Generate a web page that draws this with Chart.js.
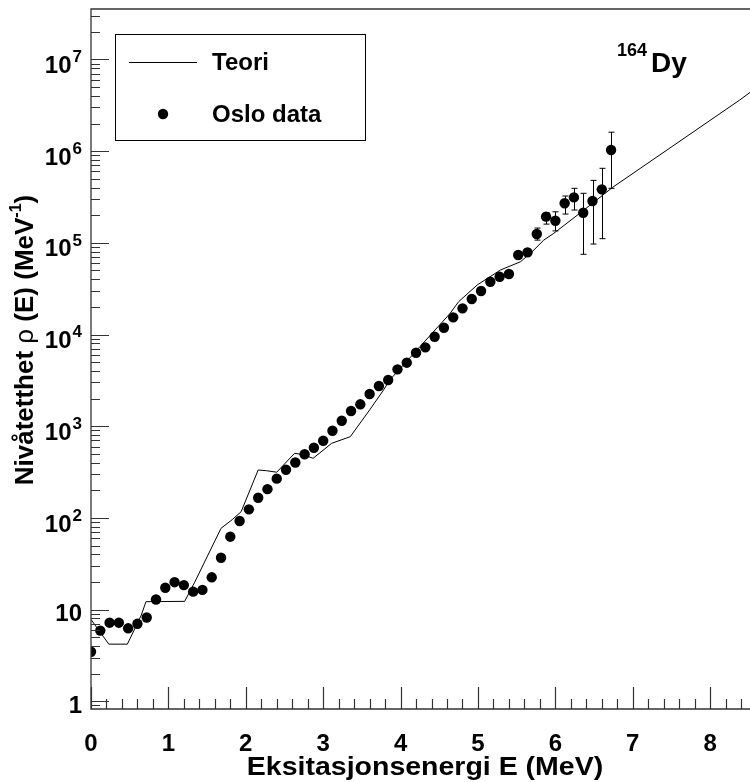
<!DOCTYPE html>
<html>
<head>
<meta charset="utf-8">
<script src="https://cdn.jsdelivr.net/npm/chart.js@4.4.0/dist/chart.umd.min.js"></script>
<style>
  html, body { margin: 0; padding: 0; background: #fff; overflow: hidden; }
</style>
</head>
<body>
<canvas id="c" width="750" height="782"></canvas>
<script>
// Oslo data points, 120 keV bins
const osloE = [0.00, 0.12, 0.24, 0.36, 0.48, 0.60, 0.72, 0.84, 0.96, 1.08,
  1.20, 1.32, 1.44, 1.56, 1.68, 1.80, 1.92, 2.04, 2.16, 2.28,
  2.40, 2.52, 2.64, 2.76, 2.88, 3.00, 3.12, 3.24, 3.36, 3.48,
  3.60, 3.72, 3.84, 3.96, 4.08, 4.20, 4.32, 4.44, 4.56, 4.68,
  4.80, 4.92, 5.04, 5.16, 5.28, 5.40, 5.52, 5.64, 5.76, 5.88,
  6.00, 6.12, 6.24, 6.36, 6.48, 6.60, 6.72];
const osloRho = [3.47, 5.9, 7.2, 7.2, 6.25, 7.0, 8.2, 12.9, 17.3, 19.9,
  18.5, 15.7, 16.4, 22.5, 36.8, 62.4, 92.5, 124, 166, 206,
  268, 335, 402, 494, 583, 695, 893, 1148, 1465, 1733,
  2245, 2744, 3190, 4172, 4930, 6330, 7250, 9460, 11860, 15400,
  19300, 24400, 29800, 37600, 42700, 45700, 73600, 78700, 124700, 193000,
  174000, 270000, 313000, 213000, 286000, 383000, 1030000];

// error bars (only the visible ones)
const errE = [5.52, 5.64, 5.76, 5.88, 6.00, 6.12, 6.24, 6.36, 6.48, 6.60, 6.72];
const errLow = [68000, 72000, 107000, 160000, 135000, 206000, 228000, 75000, 97000, 111000, 393000];
const errHigh = [80000, 86000, 145000, 213000, 218000, 324000, 393000, 347000, 480000, 650000, 1610000];

// theory curve
const teoriE = [0.00, 0.23, 0.47, 0.65, 0.71, 1.21, 1.34, 1.68, 1.83, 1.94,
  2.16, 2.27, 2.40, 2.63, 2.72, 2.87, 3.11, 3.35, 3.60, 3.78,
  3.86, 4.64, 4.75, 4.99, 5.29, 5.55, 5.70, 5.85, 5.98, 6.37,
  6.74, 8.38, 8.52];
const teoriRho = [7.8, 4.2, 4.2, 8.7, 12.2, 12.3, 19.9, 77, 96.6, 117,
  333, 327, 315, 506, 494, 447, 651, 769, 1503, 2483,
  3190, 17000, 22800, 34700, 50500, 62200, 80000, 107000, 127000, 228000,
  403000, 3600000, 4400000];

const yDecades = [0, 1, 2, 3, 4, 5, 6, 7];

const FONT = 'Liberation Sans, Arial, sans-serif';

const rootStyle = {
  id: 'rootStyle',
  afterDatasetsDraw(chart) {
    const ctx = chart.ctx;
    const xs = chart.scales.x;
    const ys = chart.scales.y;
    const a = chart.chartArea;

    ctx.save();
    // error bars
    ctx.strokeStyle = '#000';
    ctx.lineWidth = 1;
    errE.forEach((e, i) => {
      const px = Math.round(xs.getPixelForValue(e)) + 0.5;
      const p1 = ys.getPixelForValue(errLow[i]);
      const p2 = ys.getPixelForValue(errHigh[i]);
      ctx.beginPath();
      ctx.moveTo(px, p1); ctx.lineTo(px, p2);
      ctx.moveTo(px - 3, p1); ctx.lineTo(px + 3, p1);
      ctx.moveTo(px - 3, p2); ctx.lineTo(px + 3, p2);
      ctx.stroke();
    });

    // frame
    ctx.strokeStyle = '#333';
    ctx.lineWidth = 1.3;
    ctx.beginPath();
    ctx.moveTo(a.right, a.top); ctx.lineTo(a.left, a.top);
    ctx.lineTo(a.left, a.bottom); ctx.lineTo(a.right, a.bottom);
    ctx.stroke();

    // x ticks, inward
    ctx.lineWidth = 1.2;
    ctx.beginPath();
    for (let k = 0; k <= 45; k++) {
      const v = k * 0.2;
      if (v > xs.max) break;
      const px = Math.round(xs.getPixelForValue(v)) + 0.5;
      const len = k % 5 === 0 ? 22 : 10;
      ctx.moveTo(px, a.bottom); ctx.lineTo(px, a.bottom - len);
    }
    ctx.stroke();

    // y ticks, inward
    ctx.beginPath();
    for (let n = -1; n <= 7; n++) {
      for (let m = 1; m <= 9; m++) {
        const v = m * Math.pow(10, n);
        if (v < ys.min || v > ys.max) continue;
        const py = Math.round(ys.getPixelForValue(v)) + 0.5;
        const len = m === 1 ? 18 : 9;
        ctx.moveTo(a.left, py); ctx.lineTo(a.left + len, py);
      }
    }
    ctx.stroke();

    // y labels with superscripts
    ctx.fillStyle = '#000';
    ctx.textBaseline = 'middle';
    const rx = 82;
    yDecades.forEach(n => {
      const py = ys.getPixelForValue(Math.pow(10, n));
      if (n < 2) {
        ctx.font = 'bold 24px ' + FONT;
        ctx.textAlign = 'right';
        ctx.fillText(n === 0 ? '1' : '10', rx, py + 5);
      } else {
        ctx.font = 'bold 17px ' + FONT;
        const ew = ctx.measureText(String(n)).width;
        ctx.textAlign = 'left';
        ctx.fillText(String(n), rx - ew, py - 2);
        ctx.font = 'bold 24px ' + FONT;
        ctx.textAlign = 'right';
        ctx.fillText('10', rx - ew - 1, py + 7);
      }
    });

    // x title, slightly widened like the original
    ctx.save();
    ctx.translate(425, 775);
    ctx.scale(1.14, 1);
    ctx.font = 'bold 25px ' + FONT;
    ctx.textAlign = 'center';
    ctx.textBaseline = 'alphabetic';
    ctx.fillText('Eksitasjonsenergi E (MeV)', 0, 0);
    ctx.restore();

    // y title
    const segs = [
      { t: 'Nivåtetthet ', f: 'bold 26px ' + FONT, dy: 0 },
      { t: 'ρ', f: '26px ' + FONT, dy: 0 },
      { t: ' (E) (MeV', f: 'bold 26px ' + FONT, dy: 0 },
      { t: '-1', f: 'bold 16px ' + FONT, dy: -9 },
      { t: ')', f: 'bold 26px ' + FONT, dy: 0 }
    ];
    let total = 0;
    segs.forEach(s => { ctx.font = s.f; s.w = ctx.measureText(s.t).width; total += s.w; });
    ctx.save();
    ctx.translate(26, 340);
    ctx.rotate(-Math.PI / 2);
    ctx.textAlign = 'left';
    ctx.textBaseline = 'middle';
    let cx = -total / 2;
    segs.forEach(s => { ctx.font = s.f; ctx.fillText(s.t, cx, s.dy); cx += s.w; });
    ctx.restore();

    // legend box
    ctx.strokeStyle = '#000';
    ctx.lineWidth = 1;
    ctx.strokeRect(115.5, 34.5, 250, 106);
    ctx.beginPath();
    ctx.moveTo(129, 62.5); ctx.lineTo(197, 62.5);
    ctx.stroke();
    ctx.beginPath();
    ctx.arc(163, 114, 5.2, 0, Math.PI * 2);
    ctx.fill();
    ctx.font = 'bold 24px ' + FONT;
    ctx.textAlign = 'left';
    ctx.textBaseline = 'middle';
    ctx.fillText('Teori', 212, 63);
    ctx.fillText('Oslo data', 212, 115);

    // nucleus label
    ctx.textBaseline = 'alphabetic';
    ctx.font = 'bold 18px ' + FONT;
    ctx.fillText('164', 617, 56);
    ctx.font = 'bold 28px ' + FONT;
    ctx.fillText('Dy', 651, 72);
    ctx.restore();
  }
};

new Chart(document.getElementById('c'), {
  type: 'scatter',
  data: {
    datasets: [
      {
        label: 'Teori',
        data: teoriE.map((e, i) => ({ x: e, y: teoriRho[i] })),
        showLine: true,
        borderColor: '#000',
        borderWidth: 1,
        pointRadius: 0,
        tension: 0
      },
      {
        label: 'Oslo data',
        data: osloE.map((e, i) => ({ x: e, y: osloRho[i] })),
        showLine: false,
        pointRadius: 5.2,
        pointStyle: 'circle',
        backgroundColor: '#000',
        borderColor: '#000',
        borderWidth: 0
      }
    ]
  },
  options: {
    responsive: false,
    animation: false,
    layout: { autoPadding: false, padding: { top: 9, right: 0, left: 0, bottom: 0 } },
    plugins: { legend: { display: false }, tooltip: { enabled: false } },
    scales: {
      x: {
        type: 'linear',
        min: 0,
        max: 8.515,
        grid: { display: false, drawTicks: false },
        border: { display: false },
        ticks: {
          stepSize: 1,
          includeBounds: false,
          autoSkip: false,
          maxRotation: 0,
          padding: 21,
          color: '#000',
          font: { family: FONT, weight: 'bold', size: 24 }
        },
        title: { display: false },
        afterFit(s) {
          s.height = 73;
          s.paddingLeft = 0;
          s.paddingRight = 0;
        }
      },
      y: {
        type: 'logarithmic',
        min: 0.824,
        max: 3.55e7,
        grid: { display: false, drawTicks: false },
        border: { display: false },
        ticks: { display: false },
        afterFit(s) { s.width = 91; }
      }
    }
  },
  plugins: [rootStyle]
});
</script>
</body>
</html>
